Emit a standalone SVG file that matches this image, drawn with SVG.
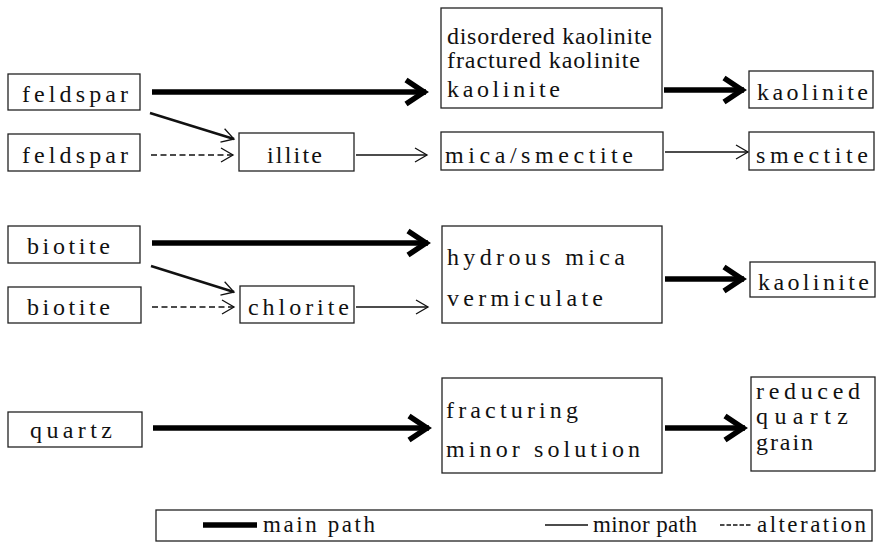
<svg xmlns="http://www.w3.org/2000/svg" width="876" height="551" viewBox="0 0 876 551">
<style>
.box{fill:#fff;stroke:#222;stroke-width:1.3}
.t{font-size:24px;fill:#111}
.lt{font-size:23px;fill:#111}
.main{stroke:#000;stroke-width:5.5;fill:none}
.minor{stroke:#111;stroke-width:1.6;fill:none}
.diag{stroke:#111;stroke-width:2.4;fill:none}
.alt{stroke:#111;stroke-width:1.6;fill:none;stroke-dasharray:6 3.5}
</style>
<defs>
<marker id="mh" markerUnits="userSpaceOnUse" viewBox="-28 -18 34 36" markerWidth="34" markerHeight="36" refX="0" refY="0" orient="auto">
<path d="M-20,-12 L-2,0 L-20,12" fill="none" stroke="#000" stroke-width="5.5" stroke-linejoin="miter"/>
</marker>
<marker id="th" markerUnits="userSpaceOnUse" viewBox="-16 -10 18 20" markerWidth="18" markerHeight="20" refX="0" refY="0" orient="auto">
<path d="M-12,-7 L0,0 L-12,7" fill="none" stroke="#111" stroke-width="1.3"/>
</marker>
</defs>
<rect width="876" height="551" fill="#fff"/>

<g id="connectors">
<line class="main" x1="152" y1="92" x2="426" y2="92" marker-end="url(#mh)"/>
<line class="main" x1="664" y1="90" x2="744" y2="90" marker-end="url(#mh)"/>
<line class="diag" x1="150" y1="113" x2="234" y2="139" marker-end="url(#th)"/>
<line class="alt" x1="151" y1="155" x2="233" y2="155" marker-end="url(#th)"/>
<line class="minor" x1="356" y1="155" x2="427" y2="155" marker-end="url(#th)"/>
<line class="minor" x1="665" y1="152" x2="748" y2="152" marker-end="url(#th)"/>
<line class="main" x1="152" y1="243" x2="428" y2="243" marker-end="url(#mh)"/>
<line class="diag" x1="151" y1="266" x2="234" y2="292" marker-end="url(#th)"/>
<line class="alt" x1="152" y1="307" x2="234" y2="307" marker-end="url(#th)"/>
<line class="minor" x1="356" y1="307" x2="428" y2="307" marker-end="url(#th)"/>
<line class="main" x1="665" y1="279" x2="744" y2="279" marker-end="url(#mh)"/>
<line class="main" x1="153" y1="428" x2="429" y2="428" marker-end="url(#mh)"/>
<line class="main" x1="665" y1="428" x2="745" y2="428" marker-end="url(#mh)"/>
</g>

<g font-family="Liberation Serif, DejaVu Serif, serif">
<g id="feldspar1"><rect class="box" x="8" y="74" width="132" height="36"/><text class="t" x="22" y="102" textLength="106" lengthAdjust="spacing">feldspar</text></g>
<g id="feldspar2"><rect class="box" x="8" y="134" width="132" height="37"/><text class="t" x="22" y="163" textLength="106" lengthAdjust="spacing">feldspar</text></g>
<g id="illite"><rect class="box" x="239" y="133" width="115" height="38"/><text class="t" x="267" y="163" textLength="55" lengthAdjust="spacing">illite</text></g>
<g id="kaolinite-group"><rect class="box" x="441" y="8" width="221" height="100"/>
<text class="t" x="447" y="44" textLength="205" lengthAdjust="spacing">disordered kaolinite</text>
<text class="t" x="447" y="68" textLength="193" lengthAdjust="spacing">fractured kaolinite</text>
<text class="t" x="447" y="97" textLength="113" lengthAdjust="spacing">kaolinite</text></g>
<g id="kaolinite1"><rect class="box" x="749" y="71" width="124" height="37"/><text class="t" x="757" y="100" textLength="111" lengthAdjust="spacing">kaolinite</text></g>
<g id="mica-smectite"><rect class="box" x="441" y="132" width="222" height="38"/><text class="t" x="445" y="163" textLength="188" lengthAdjust="spacing">mica/smectite</text></g>
<g id="smectite"><rect class="box" x="749" y="132" width="125" height="38"/><text class="t" x="756" y="163" textLength="112" lengthAdjust="spacing">smectite</text></g>

<g id="biotite1"><rect class="box" x="8" y="226" width="132" height="37"/><text class="t" x="27" y="254" textLength="83" lengthAdjust="spacing">biotite</text></g>
<g id="biotite2"><rect class="box" x="8" y="287" width="133" height="36"/><text class="t" x="27" y="315" textLength="83" lengthAdjust="spacing">biotite</text></g>
<g id="chlorite"><rect class="box" x="240" y="286" width="114" height="37"/><text class="t" x="248" y="315" textLength="101" lengthAdjust="spacing">chlorite</text></g>
<g id="hydrous-mica"><rect class="box" x="442" y="226" width="220" height="97"/>
<text class="t" x="447" y="265" textLength="178" lengthAdjust="spacing">hydrous mica</text>
<text class="t" x="447" y="306" textLength="156" lengthAdjust="spacing">vermiculate</text></g>
<g id="kaolinite2"><rect class="box" x="750" y="262" width="125" height="35"/><text class="t" x="758" y="290" textLength="111" lengthAdjust="spacing">kaolinite</text></g>

<g id="quartz"><rect class="box" x="8" y="412" width="134" height="35"/><text class="t" x="30" y="438" textLength="82" lengthAdjust="spacing">quartz</text></g>
<g id="fracturing"><rect class="box" x="442" y="378" width="220" height="95"/>
<text class="t" x="446" y="418" textLength="132" lengthAdjust="spacing">fracturing</text>
<text class="t" x="446" y="457" textLength="194" lengthAdjust="spacing">minor solution</text></g>
<g id="reduced-quartz"><rect class="box" x="751" y="377" width="124" height="94"/>
<text class="t" x="756" y="399" textLength="104" lengthAdjust="spacing">reduced</text>
<text class="t" x="756" y="424" textLength="92" lengthAdjust="spacing">quartz</text>
<text class="t" x="756" y="450" textLength="57" lengthAdjust="spacing">grain</text></g>

<g id="legend"><rect class="box" x="156" y="510" width="716" height="31"/>
<line x1="203" y1="525" x2="257" y2="525" stroke="#000" stroke-width="5.5"/>
<text class="lt" x="263" y="532" textLength="112" lengthAdjust="spacing">main path</text>
<line x1="545" y1="525" x2="588" y2="525" stroke="#111" stroke-width="1.6"/>
<text class="lt" x="593" y="532" textLength="104" lengthAdjust="spacing">minor path</text>
<line x1="720" y1="525" x2="752" y2="525" stroke="#111" stroke-width="1.6" stroke-dasharray="4.5 2"/>
<text class="lt" x="757" y="532" textLength="109" lengthAdjust="spacing">alteration</text></g>
</g>
</svg>
